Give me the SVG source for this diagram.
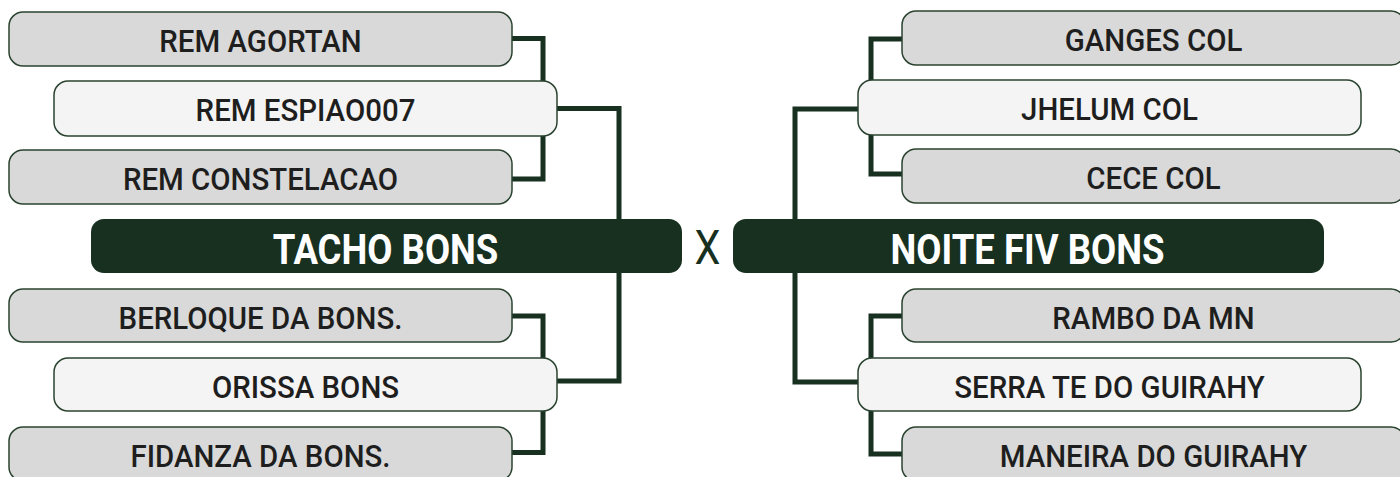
<svg xmlns="http://www.w3.org/2000/svg" width="1400" height="477" viewBox="0 0 1400 477">
<style>
.conn{fill:none;stroke:#17301f;stroke-width:5;stroke-linejoin:miter}
.grey{fill:#d9d9d9;stroke:#2a4330;stroke-width:1.5}
.light{fill:#f4f4f4;stroke:#2a4330;stroke-width:1.5}
.dark{fill:#17301f}
.t{font-family:Roboto,"Liberation Sans",sans-serif;font-weight:500;font-size:32px;fill:#1e1e1e;text-anchor:middle}
.tb{font-family:Roboto,"Liberation Sans",sans-serif;font-weight:700;font-size:43px;fill:#ffffff;text-anchor:middle}
.x{font-family:Roboto,"Liberation Sans",sans-serif;font-weight:400;font-size:48px;fill:#17301f;text-anchor:middle}
</style>
<rect width="1400" height="477" fill="#ffffff"/>
<g id="connectors">
<path class="conn" d="M512,38.5 H543 V179 H512"/>
<path class="conn" d="M557,108.5 H619 V219"/>
<path class="conn" d="M619,273 V381 H557"/>
<path class="conn" d="M512,316 H543 V452.5 H512"/>
<path class="conn" d="M902,39 H871 V174 H902"/>
<path class="conn" d="M858,109 H795 V219"/>
<path class="conn" d="M795,273 V382 H858"/>
<path class="conn" d="M902,316 H871 V454 H902"/>
</g>
<g id="rem-agortan"><rect class="grey" x="9" y="12" width="503" height="54" rx="14"/><text class="t" transform="translate(260.5,52) scale(0.92,1)">REM AGORTAN</text></g>
<g id="rem-constelacao"><rect class="grey" x="9" y="150" width="503" height="54" rx="14"/><text class="t" transform="translate(260.5,190) scale(0.92,1)">REM CONSTELACAO</text></g>
<g id="rem-espiao007"><rect class="light" x="54" y="81" width="503" height="55" rx="14"/><text class="t" transform="translate(305.5,121) scale(0.92,1)">REM ESPIAO007</text></g>
<g id="berloque"><rect class="grey" x="9" y="289" width="503" height="53" rx="14"/><text class="t" transform="translate(260.5,329) scale(0.92,1)">BERLOQUE DA BONS.</text></g>
<g id="fidanza"><rect class="grey" x="9" y="427" width="503" height="54" rx="14"/><text class="t" transform="translate(260.5,467) scale(0.92,1)">FIDANZA DA BONS.</text></g>
<g id="orissa"><rect class="light" x="54" y="358" width="503" height="53" rx="14"/><text class="t" transform="translate(305.5,398) scale(0.92,1)">ORISSA BONS</text></g>
<g id="tacho-bons"><rect class="dark" x="91" y="219" width="591" height="54" rx="13"/><text class="tb" transform="translate(385.5,264) scale(0.85,1)">TACHO BONS</text></g>
<g id="versus"><text class="x" transform="translate(707.5,264) scale(0.86,1)">X</text></g>
<g id="noite-fiv-bons"><rect class="dark" x="733" y="219" width="591" height="54" rx="13"/><text class="tb" transform="translate(1027.5,264) scale(0.85,1)">NOITE FIV BONS</text></g>
<g id="ganges-col"><rect class="grey" x="902" y="11" width="503" height="54" rx="14"/><text class="t" transform="translate(1153.5,51) scale(0.92,1)">GANGES COL</text></g>
<g id="jhelum-col"><rect class="light" x="858" y="80" width="503" height="55" rx="14"/><text class="t" transform="translate(1109.5,120) scale(0.92,1)">JHELUM COL</text></g>
<g id="cece-col"><rect class="grey" x="902" y="149" width="503" height="54" rx="14"/><text class="t" transform="translate(1153.5,189) scale(0.92,1)">CECE COL</text></g>
<g id="rambo"><rect class="grey" x="902" y="289" width="503" height="53" rx="14"/><text class="t" transform="translate(1153.5,329) scale(0.92,1)">RAMBO DA MN</text></g>
<g id="serra"><rect class="light" x="858" y="358" width="503" height="53" rx="14"/><text class="t" transform="translate(1109.5,398) scale(0.92,1)">SERRA TE DO GUIRAHY</text></g>
<g id="maneira"><rect class="grey" x="902" y="427" width="503" height="54" rx="14"/><text class="t" transform="translate(1153.5,467) scale(0.92,1)">MANEIRA DO GUIRAHY</text></g>
</svg>
